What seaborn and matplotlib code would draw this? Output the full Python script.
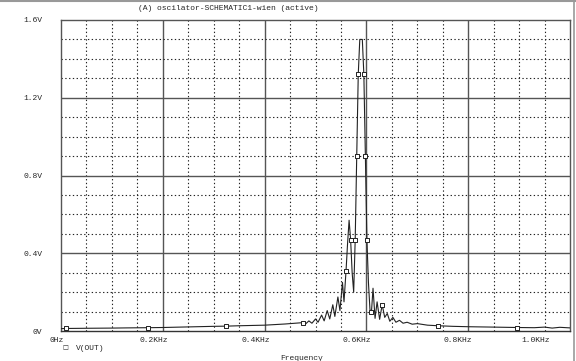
import matplotlib
matplotlib.use("Agg")
import matplotlib.pyplot as plt
from matplotlib.transforms import ScaledTranslation
from matplotlib.lines import Line2D
import seaborn as sns
import pandas as pd

# ---- data (frequency in KHz, V(OUT) in volts) ----
freq_khz = [0.000, 0.010, 0.050, 0.100, 0.130, 0.170, 0.200, 0.250, 0.300, 0.325,
            0.350, 0.400, 0.420, 0.440, 0.460, 0.475, 0.480, 0.487, 0.493, 0.500,
            0.505, 0.512, 0.517, 0.523, 0.528, 0.534, 0.538, 0.544, 0.548, 0.553,
            0.556, 0.560, 0.563, 0.566, 0.569, 0.572, 0.575, 0.578, 0.581, 0.584,
            0.587, 0.592, 0.595, 0.598, 0.601, 0.604, 0.607, 0.610, 0.613, 0.617,
            0.621, 0.626, 0.631, 0.636, 0.641, 0.646, 0.652, 0.658, 0.665, 0.672,
            0.680, 0.690, 0.700, 0.720, 0.741, 0.770, 0.800, 0.850, 0.896, 0.930,
            0.950, 0.965, 0.980, 1.000]
v_out = [0.012, 0.013, 0.014, 0.015, 0.016, 0.017, 0.018, 0.021, 0.024, 0.025,
         0.027, 0.030, 0.033, 0.036, 0.040, 0.043, 0.035, 0.052, 0.040, 0.062,
         0.045, 0.082, 0.052, 0.105, 0.062, 0.135, 0.075, 0.175, 0.105, 0.250,
         0.150, 0.310, 0.450, 0.570, 0.470, 0.300, 0.200, 0.470, 0.900, 1.320,
         1.500, 1.500, 1.320, 0.900, 0.470, 0.250, 0.110, 0.100, 0.220, 0.065,
         0.150, 0.060, 0.135, 0.070, 0.090, 0.050, 0.070, 0.045, 0.055, 0.040,
         0.045, 0.035, 0.038, 0.030, 0.027, 0.024, 0.022, 0.020, 0.018, 0.017,
         0.020, 0.015, 0.019, 0.016]
marker_freqs = [0.010, 0.170, 0.325, 0.475, 0.560, 0.569, 0.578, 0.581, 0.584,
                0.595, 0.598, 0.601, 0.610, 0.631, 0.741, 0.896]

x_ticks = [0.0, 0.2, 0.4, 0.6, 0.8, 1.0]
x_tick_labels = ["0Hz", "0.2KHz", "0.4KHz", "0.6KHz", "0.8KHz", "1.0KHz"]
y_ticks = [0.0, 0.4, 0.8, 1.2, 1.6]
y_tick_labels = ["0V", "0.4V", "0.8V", "1.2V", "1.6V"]
title_text = "(A) oscilator-SCHEMATIC1-wien (active)"
legend_text = "V(OUT)"
x_label = "Frequency"

df = pd.DataFrame({"freq": freq_khz, "v": v_out})
mk = df[df["freq"].isin(marker_freqs)]

sns.set_style("white")
plt.rcParams["font.family"] = ["Liberation Mono", "DejaVu Sans Mono"]
FS = 5.8

W, H = 576, 361
fig = plt.figure(figsize=(W / 100, H / 100), dpi=100)
ax = fig.add_axes([61 / W, 1 - 331 / H, (570 - 61) / W, (331 - 20) / H])

# grid
for xv in [i * 0.05 for i in range(1, 20)]:
    if abs(xv / 0.2 - round(xv / 0.2)) < 1e-6:
        ax.axvline(xv, color="#555555", lw=1.0, zorder=1)
    else:
        ax.axvline(xv, color="#222222", lw=0.8, ls=(0, (1.2, 2.2)), zorder=1)
for yv in [i * 0.1 for i in range(1, 16)]:
    if abs(yv / 0.4 - round(yv / 0.4)) < 1e-6:
        ax.axhline(yv, color="#555555", lw=1.0, zorder=1)
    else:
        ax.axhline(yv, color="#222222", lw=0.8, ls=(0, (1.2, 2.2)), zorder=1)

sns.lineplot(data=df, x="freq", y="v", ax=ax, color="#222222", lw=0.8,
             sort=False, zorder=3)
sns.scatterplot(data=mk, x="freq", y="v", ax=ax, marker="s", s=9,
                facecolor="white", edgecolor="#222222", linewidth=0.7, zorder=4)

ax.set_xlim(0, 1.0)
ax.set_ylim(0, 1.6)
ax.set_xlabel("")
ax.set_ylabel("")

for s in ["left", "top", "right"]:
    ax.spines[s].set_color("#555555")
    ax.spines[s].set_linewidth(1.0)
ax.spines["bottom"].set_color("#333333")
ax.spines["bottom"].set_linewidth(1.0)

ax.set_xticks(x_ticks)
ax.set_xticklabels(x_tick_labels, fontsize=FS)
ax.set_yticks(y_ticks)
ax.set_yticklabels(y_tick_labels, fontsize=FS)
ax.tick_params(axis="x", direction="out", length=3.5, width=1.0, color="#444444", pad=1.0)
ax.tick_params(axis="y", direction="out", length=5, width=1.0, color="#444444", pad=8.5)

x_offsets_px = [-4.5, -9, -9, -10, -10, -34]
for lab, dx in zip(ax.get_xticklabels(), x_offsets_px):
    lab.set_transform(lab.get_transform() + ScaledTranslation(dx / 100, 0, fig.dpi_scale_trans))

# title, legend, x label
fig.text(138 / W, 1 - 8 / H, title_text, fontsize=FS, ha="left", va="center")
fig.text(65 / W, 1 - 348 / H, "\u25a1", fontsize=4.5, ha="center", va="center",
         family=["DejaVu Sans"])
fig.text(76 / W, 1 - 348 / H, legend_text, fontsize=FS, ha="left", va="center")
fig.text(302 / W, 1 - 358 / H, x_label, fontsize=FS, ha="center", va="center")

# window border
fig.add_artist(Line2D([0, 1], [1 - 0.8 / H, 1 - 0.8 / H], transform=fig.transFigure,
                      color="#999999", lw=1.5))
fig.add_artist(Line2D([574 / W, 574 / W], [0, 1], transform=fig.transFigure,
                      color="#999999", lw=1.2))

fig.savefig("out.png", dpi=100, facecolor="white")
